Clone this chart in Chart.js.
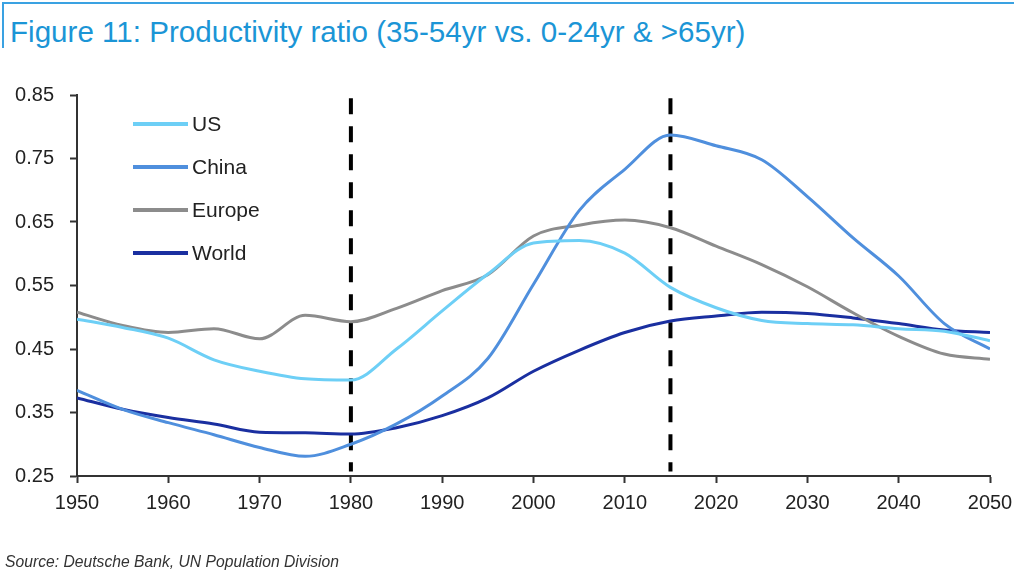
<!DOCTYPE html>
<html>
<head>
<meta charset="utf-8">
<script src="https://cdn.jsdelivr.net/npm/chart.js@4.4.1/dist/chart.umd.min.js"></script>
<style>
  html, body { margin: 0; padding: 0; background: #ffffff; }
  body { width: 1014px; height: 580px; position: relative; overflow: hidden; font-family: "Liberation Sans", Arial, sans-serif; }
  #frameTop { position: absolute; left: 2px; top: 2px; width: 1012px; height: 2px; background: #3aa2e2; }
  #frameLeft { position: absolute; left: 2px; top: 2px; width: 2px; height: 46px; background: #3aa2e2; }
  #title { position: absolute; left: 10px; top: 17px; font-size: 29.6px; line-height: 1; color: #1b95d6; white-space: nowrap; }
  #source { position: absolute; left: 5px; top: 553px; font-size: 15.7px; font-style: italic; color: #333; white-space: nowrap; }
  #wrap { position: absolute; left: 0; top: 0; width: 1014px; height: 580px; }
</style>
</head>
<body>
<div id="frameTop"></div>
<div id="frameLeft"></div>
<div id="title">Figure 11: Productivity ratio (35-54yr vs. 0-24yr &amp; &gt;65yr)</div>
<div id="wrap"><canvas id="c" width="1014" height="580"></canvas></div>
<div id="source">Source: Deutsche Bank, UN Population Division</div>
<script>
const years = [1950,1955,1960,1965,1970,1975,1980,1985,1990,1995,2000,2005,2010,2015,2020,2025,2030,2035,2040,2045,2050];
const usValues     = [0.497,0.484,0.467,0.433,0.415,0.403,0.401,0.450,0.510,0.568,0.617,0.621,0.601,0.547,0.515,0.495,0.490,0.488,0.482,0.478,0.463];
const chinaValues  = [0.385,0.355,0.334,0.315,0.295,0.281,0.300,0.332,0.376,0.435,0.552,0.668,0.733,0.787,0.770,0.748,0.690,0.625,0.565,0.490,0.450];
const europeValues = [0.508,0.487,0.476,0.482,0.466,0.503,0.493,0.514,0.542,0.567,0.628,0.645,0.653,0.641,0.612,0.583,0.548,0.507,0.470,0.442,0.434];
const worldValues  = [0.373,0.355,0.342,0.332,0.319,0.318,0.316,0.326,0.345,0.373,0.415,0.448,0.476,0.494,0.502,0.508,0.506,0.499,0.490,0.480,0.476];
const seriesNames  = ["US","China","Europe","World"];
const markerYears  = [1980, 2015];
const markerRange  = [0.845, 0.257];
const xTicks = [1950,1960,1970,1980,1990,2000,2010,2020,2030,2040,2050];
const yTicks = [0.25,0.35,0.45,0.55,0.65,0.75,0.85];

const colors = ["#6dcff6","#4f8fdd","#8c8c8c","#1a2fa0"];
const seriesValues = [usValues, chinaValues, europeValues, worldValues];

const datasets = seriesNames.map((name, i) => ({
  label: name,
  data: years.map((yr, k) => ({ x: yr, y: seriesValues[i][k] })),
  borderColor: colors[i],
  backgroundColor: colors[i],
  borderWidth: 3,
  pointRadius: 0,
  cubicInterpolationMode: 'monotone',
  fill: false,
  isSeries: true
}));
markerYears.forEach(yr => {
  datasets.push({
    label: 'marker' + yr,
    data: markerRange.map(v => ({ x: yr, y: v })),
    borderColor: '#000000',
    borderWidth: 4,
    borderDash: [16, 12],
    pointRadius: 0,
    fill: false,
    isSeries: false
  });
});

const legendPlugin = {
  id: 'insideLegend',
  afterDatasetsDraw(chart) {
    const ctx = chart.ctx;
    const area = chart.chartArea;
    ctx.save();
    const x0 = 133, x1 = 188;
    chart.data.datasets.forEach((ds, i) => {
      if (!ds.isSeries) return;
      const y = area.top + 29 + i * 43;
      ctx.strokeStyle = ds.borderColor;
      ctx.lineWidth = 4;
      ctx.beginPath();
      ctx.moveTo(x0, y);
      ctx.lineTo(x1, y);
      ctx.stroke();
      ctx.fillStyle = '#222222';
      ctx.font = '21px "Liberation Sans", Arial, sans-serif';
      ctx.textBaseline = 'middle';
      ctx.textAlign = 'left';
      ctx.fillText(ds.label, x1 + 4, y + 1);
    });
    ctx.restore();
  }
};

new Chart(document.getElementById('c'), {
  type: 'line',
  data: { datasets },
  options: {
    responsive: false,
    animation: false,
    layout: { padding: { left: 0, right: 24, top: 95, bottom: 64 } },
    plugins: { legend: { display: false }, tooltip: { enabled: false }, title: { display: false } },
    scales: {
      x: {
        type: 'linear',
        min: 1950, max: 2050,
        afterBuildTicks: s => { s.ticks = xTicks.map(v => ({ value: v })); },
        afterFit: s => { s.height = 40; s.paddingLeft = 0; s.paddingRight = 0; },
        grid: { display: true, drawOnChartArea: false, drawTicks: true, tickLength: 7, tickWidth: 2, tickColor: '#333' },
        border: { display: true, color: '#333', width: 2 },
        ticks: { color: '#222', font: { family: '"Liberation Sans", Arial, sans-serif', size: 20 }, padding: 8, maxRotation: 0, autoSkip: false, callback: v => String(v) }
      },
      y: {
        type: 'linear',
        min: 0.25, max: 0.85,
        afterBuildTicks: s => { s.ticks = yTicks.map(v => ({ value: v })); },
        afterFit: s => { s.width = 77; s.paddingTop = 0; s.paddingBottom = 0; },
        grid: { display: true, drawOnChartArea: false, drawTicks: true, tickLength: 7, tickWidth: 2, tickColor: '#333' },
        border: { display: true, color: '#333', width: 2 },
        ticks: { color: '#222', font: { family: '"Liberation Sans", Arial, sans-serif', size: 20 }, padding: 16, autoSkip: false, callback: v => Number(v).toFixed(2) }
      }
    }
  },
  plugins: [legendPlugin]
});
</script>
</body>
</html>
